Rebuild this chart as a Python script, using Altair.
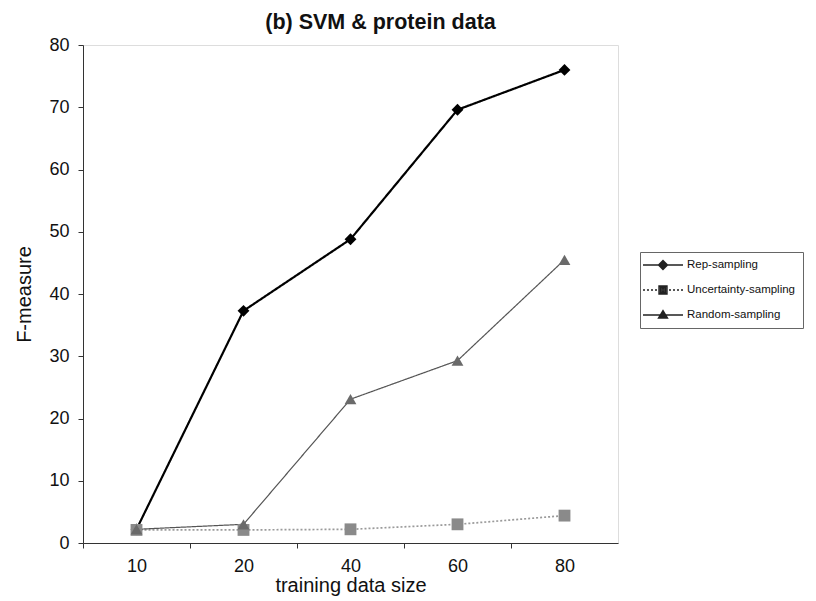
import altair as alt
import pandas as pd

sizes = ["10", "20", "40", "60", "80"]
series = ["Rep-sampling", "Uncertainty-sampling", "Random-sampling"]
rep = [2.2, 37.3, 48.8, 69.6, 76.0]
unc = [2.1, 2.1, 2.2, 3.0, 4.4]
rnd = [2.2, 3.0, 23.1, 29.3, 45.5]

rows = []
for name, vals in zip(series, [rep, unc, rnd]):
    for s, v in zip(sizes, vals):
        rows.append({"size": s, "value": v, "series": name})
df = pd.DataFrame(rows)

FONT = "Liberation Sans"
W, H = 535, 498
step = W / len(sizes)

x = alt.X("size:O", sort=sizes, title="training data size",
          scale=alt.Scale(type="point", padding=0.5),
          axis=alt.Axis(labelAngle=0, tickOffset=-step / 2, labelOffset=step / 2,
                        labelFontSize=18, titleFontSize=20, titleFontWeight="normal",
                        labelPadding=9, titlePadding=0, tickSize=5,
                        domainColor="#333", tickColor="#333", labelColor="#111",
                        titleColor="#111", labelFont=FONT, titleFont=FONT))
y = alt.Y("value:Q", title="F-measure",
          scale=alt.Scale(domain=[0, 80], nice=False),
          axis=alt.Axis(values=list(range(0, 81, 10)), labelFontSize=18, titleFontSize=20,
                        titleFontWeight="normal", labelPadding=9, titlePadding=14,
                        tickSize=5, domainColor="#333", tickColor="#333",
                        labelColor="#111", titleColor="#111", grid=False,
                        labelFont=FONT, titleFont=FONT))

col_scale = alt.Scale(domain=series, range=["#000000", "#9a9a9a", "#555555"])

lines = alt.Chart(df).mark_line().encode(
    x=x, y=y,
    color=alt.Color("series:N", scale=col_scale, legend=None),
    strokeDash=alt.StrokeDash("series:N", scale=alt.Scale(domain=series, range=[[1, 0], [2, 2], [1, 0]]), legend=None),
    strokeWidth=alt.StrokeWidth("series:N", scale=alt.Scale(domain=series, range=[2.2, 1.2, 1.2]), legend=None),
)

mark_colors = alt.Scale(domain=series, range=["#000000", "#8a8a8a", "#6a6a6a"])

points = alt.Chart(df).mark_point(filled=True, opacity=1).encode(
    x=x, y=y,
    color=alt.Color("series:N", scale=mark_colors, legend=None),
    shape=alt.Shape("series:N", scale=alt.Scale(domain=series, range=["diamond", "square", "triangle-up"]), legend=None),
    size=alt.value(140),
)

leg_paths = [
    "M-4,0H4M0,-0.9L0.9,0L0,0.9L-0.9,0ZM0,-0.6L0.6,0L0,0.6L-0.6,0ZM0,-0.3L0.3,0L0,0.3L-0.3,0Z",
    "M-4,0H-3.6M-3.2,0H-2.8M-2.4,0H-2M-1.6,0H-1.2M-0.8,-0.8H0.8V0.8H-0.8ZM-0.5,-0.5H0.5V0.5H-0.5ZM-0.2,-0.2H0.2V0.2H-0.2ZM1.2,0H1.6M2,0H2.4M2.8,0H3.2M3.6,0H4",
    "M-4,0H4M0,-0.9L0.9,0.6H-0.9ZM0,-0.45L0.5,0.35H-0.5ZM0,-0.1L0.2,0.2H-0.2Z",
]
legend_layer = alt.Chart(df).mark_point(filled=False, opacity=0).encode(
    x=x, y=y,
    shape=alt.Shape("series:N", scale=alt.Scale(domain=series, range=leg_paths),
                    legend=alt.Legend(title=None, orient="none", legendX=557, legendY=207,
                                      symbolSize=100, symbolOffset=10, symbolOpacity=1,
                                      symbolStrokeWidth=1.4, symbolStrokeColor="#222",
                                      labelFont=FONT, labelFontSize=11.5, labelColor="#111",
                                      labelOffset=18, rowPadding=10, padding=7,
                                      strokeColor="#666", fillColor="white")),
)

chart = alt.layer(lines, points, legend_layer).resolve_scale(
    shape="independent", color="independent"
).properties(
    width=W, height=H,
    title=alt.TitleParams("(b) SVM & protein data", fontSize=21.5, fontWeight="bold",
                          font=FONT, color="#111", anchor="middle", dx=30, offset=3),
    autosize=alt.AutoSizeParams(type="none"),
    padding={"left": 75, "top": 37, "right": 190, "bottom": 56},
).configure_view(stroke="#777", strokeWidth=1).configure(background="white")

chart.save("out.html", embed_options={"renderer": "svg", "actions": False})
